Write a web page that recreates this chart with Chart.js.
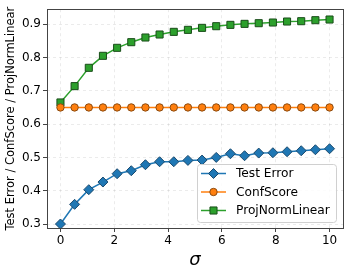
<!DOCTYPE html>
<html><head><meta charset="utf-8">
<script src="https://cdn.jsdelivr.net/npm/chart.js@4/dist/chart.umd.min.js"></script>
<style>html,body{margin:0;padding:0;background:#fff}#wrap{width:349px;height:271px}</style>
</head><body><div id="wrap"><canvas id="c" width="349" height="271"></canvas></div>
<script>
const sigma = [0, 0.526, 1.053, 1.579, 2.105, 2.632, 3.158, 3.684, 4.211, 4.737, 5.263, 5.789, 6.316, 6.842, 7.368, 7.895, 8.421, 8.947, 9.474, 10];
const testError = [0.300, 0.359, 0.403, 0.426, 0.451, 0.460, 0.478, 0.487, 0.487, 0.491, 0.492, 0.500, 0.511, 0.505, 0.513, 0.514, 0.517, 0.520, 0.523, 0.526];
const confScore = [0.650, 0.650, 0.650, 0.650, 0.650, 0.650, 0.650, 0.650, 0.650, 0.650, 0.650, 0.650, 0.650, 0.650, 0.650, 0.650, 0.650, 0.650, 0.650, 0.650];
const projNormLinear = [0.665, 0.714, 0.769, 0.805, 0.829, 0.846, 0.860, 0.869, 0.877, 0.883, 0.889, 0.894, 0.898, 0.901, 0.903, 0.905, 0.908, 0.909, 0.912, 0.914];
const xTicks = [0, 2, 4, 6, 8, 10];
const yTicks = [0.3, 0.4, 0.5, 0.6, 0.7, 0.8, 0.9];
const seriesNames = ['Test Error', 'ConfScore', 'ProjNormLinear'];
const yTitle = 'Test Error / ConfScore / ProjNormLinear';

const FONT = 'DejaVu Sans';
function pts(ys){ return sigma.map((x,i)=>({x:x,y:ys[i]})); }

function drawMarker(ctx, style, r, x, y, fill, edge){
  ctx.save();
  ctx.beginPath();
  if(style==='rectRot'){ ctx.moveTo(x, y-r); ctx.lineTo(x+r, y); ctx.lineTo(x, y+r); ctx.lineTo(x-r, y); ctx.closePath(); }
  else if(style==='rect'){ const s=Math.SQRT1_2*r; ctx.rect(x-s,y-s,2*s,2*s); }
  else { ctx.arc(x,y,r,0,Math.PI*2); }
  ctx.fillStyle=fill; ctx.fill(); ctx.lineWidth=1; ctx.strokeStyle=edge; ctx.stroke();
  ctx.restore();
}

const framePlugin = {
  id:'frame',
  afterDraw(chart){
    const {ctx, chartArea:a} = chart;
    ctx.save();
    ctx.strokeStyle='#444'; ctx.lineWidth=1;
    ctx.strokeRect(Math.round(a.left)+0.5, Math.round(a.top)+0.5, Math.round(a.right-a.left), Math.round(a.bottom-a.top));
    // y title
    ctx.save();
    ctx.translate(11, (a.top+a.bottom)/2); ctx.rotate(-Math.PI/2);
    ctx.fillStyle='#000'; ctx.font='11.5px "'+FONT+'"'; ctx.textAlign='center'; ctx.textBaseline='middle';
    ctx.fillText(yTitle, 0, 0);
    ctx.restore();
    // legend
    const lx=197, ly=164, lw=139, lh=58;
    ctx.fillStyle='rgba(255,255,255,0.85)';
    ctx.strokeStyle='#d0d0d0';
    ctx.beginPath();
    if(ctx.roundRect) ctx.roundRect(lx+0.5,ly+0.5,lw,lh,3); else ctx.rect(lx+0.5,ly+0.5,lw,lh);
    ctx.fill(); ctx.stroke();
    const rows=[173.5,192,210.5];
    chart.data.datasets.forEach((ds,i)=>{
      const y=rows[i];
      ctx.strokeStyle=ds.borderColor; ctx.lineWidth=1.5;
      ctx.beginPath(); ctx.moveTo(201,y); ctx.lineTo(226,y); ctx.stroke();
      drawMarker(ctx, ds.pointStyle, ds.pointRadius, 213.5, y, ds.pointBackgroundColor, ds.pointBorderColor);
      ctx.fillStyle='#000'; ctx.font='12.2px "'+FONT+'"'; ctx.textBaseline='middle'; ctx.textAlign='left';
      ctx.fillText(ds.label, 236, y+0.5);
    });
    ctx.restore();
  }
};

new Chart(document.getElementById('c'), {
  type:'line',
  data:{ datasets:[
    {label:seriesNames[0], data:pts(testError), borderColor:'#1f77b4', borderWidth:1.5, pointStyle:'rectRot', pointRadius:5, pointBackgroundColor:'#1f77b4', pointBorderColor:'#1b4a6e', pointBorderWidth:1, tension:0},
    {label:seriesNames[1], data:pts(confScore), borderColor:'#ff7f0e', borderWidth:1.5, pointStyle:'circle', pointRadius:3.7, pointBackgroundColor:'#ff7f0e', pointBorderColor:'#8a4a10', pointBorderWidth:1, tension:0},
    {label:seriesNames[2], data:pts(projNormLinear), borderColor:'#2ca02c', borderWidth:1.5, pointStyle:'rect', pointRadius:5, pointBackgroundColor:'#2ca02c', pointBorderColor:'#1a4d1a', pointBorderWidth:1, tension:0}
  ]},
  options:{
    responsive:false, animation:false, devicePixelRatio:1,
    layout:{padding:{left:0,right:6,top:8,bottom:0}},
    plugins:{legend:{display:false}, tooltip:{enabled:false}},
    scales:{
      x:{type:'linear', min:-0.5, max:10.5,
        afterBuildTicks(s){ s.ticks = xTicks.map(v=>({value:v})); },
        afterFit(s){ s.height = 43; },
        grid:{color:'rgba(0,0,0,0.08)', tickColor:'#444', tickLength:4, drawTicks:true},
        border:{display:false, dash:[3,3]},
        ticks:{color:'#000', font:{family:FONT,size:12}, padding:2, maxRotation:0, callback:v=>String(v)},
        title:{display:true, text:'σ', color:'#000', font:{family:FONT,size:18,style:'italic'}, padding:{top:0,bottom:0}}
      },
      y:{type:'linear', min:0.288, max:0.945,
        afterBuildTicks(s){ s.ticks = yTicks.map(v=>({value:v})); },
        afterFit(s){ s.width = 47; },
        grid:{color:'rgba(0,0,0,0.08)', tickColor:'#444', tickLength:4, drawTicks:true},
        border:{display:false, dash:[3,3]},
        ticks:{color:'#000', font:{family:FONT,size:12}, padding:2, callback:v=>v.toFixed(1)}
      }
    }
  },
  plugins:[framePlugin]
});
</script></body></html>
